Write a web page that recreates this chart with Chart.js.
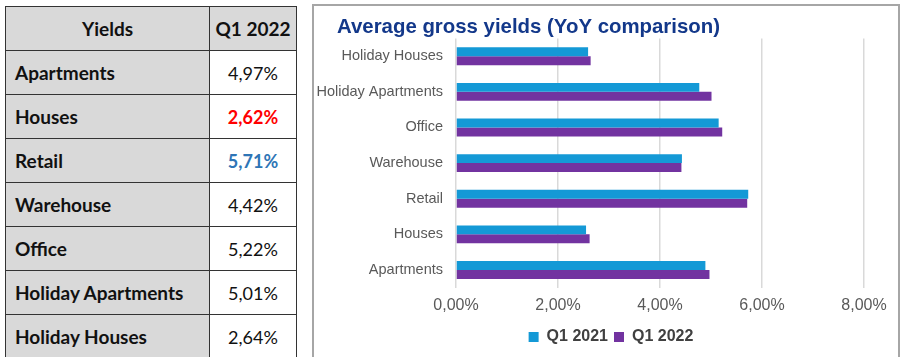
<!DOCTYPE html>
<html><head><meta charset="utf-8">
<script src="https://cdn.jsdelivr.net/npm/chart.js@4"></script>
<style>
html,body{margin:0;padding:0;background:#fff;width:900px;height:357px;overflow:hidden;}
#tbl{position:absolute;left:5px;top:6px;border-collapse:collapse;font-family:Lato,"Open Sans",sans-serif;font-size:19px;color:#111;}
#tbl td{border:1.5px solid #333;height:44px;padding:0;box-sizing:border-box;}
#tbl td.l{background:#d9d9d9;font-weight:bold;padding-left:9px;width:204px;}
#tbl td.v{background:#fff;text-align:center;width:87px;font-size:18px;}
#tbl tr.h td{background:#d9d9d9;font-weight:bold;text-align:center;padding-left:0;}
#panel{position:absolute;left:312px;top:4px;width:584px;height:360px;border:2px solid #a6a6a6;background:#fff;}
#wrap{position:absolute;left:314px;top:6px;width:582px;height:349px;}
</style></head><body>
<table id="tbl"></table>
<div id="panel"></div>
<div id="wrap"><canvas id="c"></canvas></div>
<script>
const tableHeader = ["Yields", "Q1 2022"];
const tableRows = ["Apartments","Houses","Retail","Warehouse","Office","Holiday Apartments","Holiday Houses"];
const tableValues = ["4,97%","2,62%","5,71%","4,42%","5,22%","5,01%","2,64%"];
const tableValueColors = ["#111","#ff0000","#2e75b6","#111","#111","#111","#111"];
const tableValueBold = [false,true,true,false,false,false,false];

const categories = ["Holiday Houses","Holiday Apartments","Office","Warehouse","Retail","Houses","Apartments"];
const q12021 = [2.59, 4.77, 5.15, 4.43, 5.73, 2.55, 4.89];
const q12022 = [2.64, 5.01, 5.22, 4.42, 5.71, 2.62, 4.97];
const seriesNames = ["Q1 2021","Q1 2022"];
const xTicks = [0,2,4,6,8];

// table
const tbl = document.getElementById('tbl');
let html = '<tr class="h"><td class="l">'+tableHeader[0]+'</td><td class="v" style="font-size:19px">'+tableHeader[1]+'</td></tr>';
tableRows.forEach((r,i)=>{
  html += '<tr><td class="l">'+r+'</td><td class="v" style="color:'+tableValueColors[i]+';font-weight:'+(tableValueBold[i]?'bold':'normal')+'">'+tableValues[i]+'</td></tr>';
});
tbl.innerHTML = html;

const shiftBlocks = {
  id: 'shiftBlocks',
  afterLayout(chart) {
    chart.titleBlock.left = 23;
    chart.legend.left += 22;
    chart.legend.right += 22;
  }
};

new Chart(document.getElementById('c'), {
  type: 'bar',
  plugins: [shiftBlocks],
  data: {
    labels: categories,
    datasets: [
      {label: seriesNames[0], data: q12021, backgroundColor: '#1499d6', categoryPercentage: 0.5, barPercentage: 1.0},
      {label: seriesNames[1], data: q12022, backgroundColor: '#7233a0', categoryPercentage: 0.5, barPercentage: 1.0}
    ]
  },
  options: {
    indexAxis: 'y',
    responsive: true,
    maintainAspectRatio: false,
    animation: false,
    layout: {padding: {left: 0, right: 32, top: 10, bottom: 0}},
    plugins: {
      title: {display: true, text: 'Average gross yields (YoY comparison)', align: 'start',
        color: '#13388a', font: {family: 'Arial', size: 20.4, weight: 'bold', lineHeight: 1.1}, padding: {top: 0, bottom: 0}},
      legend: {position: 'bottom', labels: {boxWidth: 10, boxHeight: 10, color: '#404040', padding: 6,
        font: {family: 'Arial', size: 16, weight: 'bold'}}},
      tooltip: {enabled: false}
    },
    scales: {
      x: {min: 0, max: 8, afterBuildTicks: s => { s.ticks = xTicks.map(v => ({value: v})); },
        grid: {color: '#d9d9d9', lineWidth: 1.5, drawTicks: false},
        border: {display: false},
        ticks: {color: '#595959', padding: 8, font: {family: 'Arial', size: 16},
          callback: v => v.toFixed(2).replace('.', ',') + '%'}},
      y: {grid: {display: false, drawTicks: false}, border: {display: false},
        afterFit: s => { s.width = 142; },
        ticks: {color: '#595959', padding: 13, font: {family: 'Arial', size: 14.5}}}
    }
  }
});
</script>
</body></html>
